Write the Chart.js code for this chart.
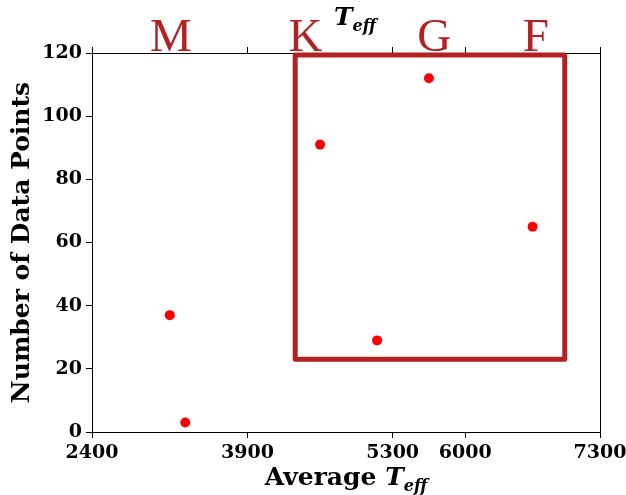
<!DOCTYPE html>
<html>
<head>
<meta charset="utf-8">
<script src="https://cdn.jsdelivr.net/npm/chart.js@4.4.1/dist/chart.umd.min.js"></script>
<style>
  html, body { margin: 0; padding: 0; background: #fff; }
  #wrap { width: 626px; height: 495px; position: relative; }
</style>
</head>
<body>
<div id="wrap"><canvas id="chart" width="626" height="495"></canvas></div>
<script>
// average effective temperature and number of data points per bin
const teff = [3150, 3300, 4600, 5150, 5650, 6650];
const counts = [37, 3, 91, 29, 112, 65];

// axis ticks
const xTicks = [2400, 3900, 5300, 6000, 7300];
const yTicks = [0, 20, 40, 60, 80, 100, 120];

// spectral classes along the top
const classLabels = ['M', 'K', 'G', 'F'];
const classTeff = [3160, 4460, 5700, 6680];

// highlighted region (Teff range, count range)
const boxTeff = [4360, 6960];
const boxCount = [23, 119.4];

const RED = '#b22222';
const SERIF = '"DejaVu Serif", serif';
const tickFont = { family: SERIF, size: 19, weight: 'bold' };

function drawTeff(ctx, x, y, size, bold, align) {
  // "T" with an "eff" subscript
  const w = bold ? 'bold ' : '';
  ctx.font = 'italic ' + w + size + 'px ' + SERIF;
  const tw = ctx.measureText('T').width;
  const sub = Math.round(size * 0.62);
  ctx.font = 'italic ' + w + sub + 'px ' + SERIF;
  const sw = ctx.measureText('eff').width;
  let x0 = x;
  if (align === 'center') x0 = x - (tw + sw) / 2;
  ctx.textAlign = 'left';
  ctx.textBaseline = 'alphabetic';
  ctx.font = 'italic ' + w + size + 'px ' + SERIF;
  ctx.fillText('T', x0, y);
  ctx.font = 'italic ' + w + sub + 'px ' + SERIF;
  ctx.fillText('eff', x0 + tw, y + size * 0.25);
  return tw + sw;
}

const decorations = {
  id: 'decorations',
  afterDatasetsDraw(chart) {
    const { ctx, scales } = chart;
    const x = scales.x, y = scales.y;
    ctx.save();

    // highlight box
    ctx.strokeStyle = RED;
    ctx.lineWidth = 5;
    ctx.lineJoin = 'round';
    const x1 = x.getPixelForValue(boxTeff[0]);
    const x2 = x.getPixelForValue(boxTeff[1]);
    const y1 = y.getPixelForValue(boxCount[1]);
    const y2 = y.getPixelForValue(boxCount[0]);
    ctx.strokeRect(x1, y1, x2 - x1, y2 - y1);

    // spectral class letters
    ctx.fillStyle = RED;
    ctx.font = '47px "Liberation Serif", serif';
    ctx.textAlign = 'center';
    ctx.textBaseline = 'alphabetic';
    classLabels.forEach((c, i) => {
      ctx.fillText(c, x.getPixelForValue(classTeff[i]), 51);
    });

    // top title
    ctx.fillStyle = '#000';
    drawTeff(ctx, 355, 25, 25, true, 'center');

    // x axis label
    ctx.font = 'bold 25px ' + SERIF;
    const aw = ctx.measureText('Average ').width;
    ctx.font = 'italic bold 25px ' + SERIF;
    const tw = ctx.measureText('T').width;
    ctx.font = 'italic bold 16px ' + SERIF;
    const sw = ctx.measureText('eff').width;
    const cx = (x.left + x.right) / 2;
    const start = cx - (aw + tw + sw) / 2;
    ctx.font = 'bold 25px ' + SERIF;
    ctx.textAlign = 'left';
    ctx.fillText('Average ', start, 485);
    drawTeff(ctx, start + aw, 485, 25, true, 'left');

    ctx.restore();
  }
};

const noSidePadding = s => { s.paddingLeft = 0; s.paddingRight = 0; };

new Chart(document.getElementById('chart'), {
  type: 'scatter',
  data: {
    datasets: [{
      data: teff.map((t, i) => ({ x: t, y: counts[i] })),
      backgroundColor: '#ff0000',
      borderWidth: 0,
      pointRadius: 5,
      pointHoverRadius: 5
    }]
  },
  options: {
    responsive: false,
    animation: false,
    devicePixelRatio: 1,
    layout: { padding: 0 },
    plugins: { legend: { display: false }, tooltip: { enabled: false } },
    scales: {
      x: {
        type: 'linear',
        position: 'bottom',
        min: 2400, max: 7300,
        afterBuildTicks: s => { s.ticks = xTicks.map(v => ({ value: v })); },
        afterFit: s => { s.height = 63; noSidePadding(s); },
        ticks: { font: tickFont, color: '#000', padding: 4, maxRotation: 0, autoSkip: false, callback: v => String(v) },
        grid: { drawOnChartArea: false, tickLength: 6, color: '#000' },
        border: { color: '#000', width: 1 }
      },
      xTop: {
        type: 'linear',
        position: 'top',
        min: 2400, max: 7300,
        afterBuildTicks: s => { s.ticks = xTicks.map(v => ({ value: v })); },
        afterFit: s => { s.height = 53; noSidePadding(s); },
        ticks: { callback: () => '', font: tickFont },
        grid: { drawOnChartArea: false, tickLength: 6, color: '#000' },
        border: { color: '#000', width: 1 }
      },
      y: {
        position: 'left',
        min: 0, max: 120,
        afterBuildTicks: s => { s.ticks = yTicks.map(v => ({ value: v })); },
        afterFit: s => { s.width = 92; s.paddingTop = 0; s.paddingBottom = 0; },
        ticks: { font: tickFont, color: '#000', padding: 4, callback: v => String(v) },
        grid: { drawOnChartArea: false, tickLength: 6, color: '#000' },
        border: { color: '#000', width: 1 },
        title: {
          display: true,
          text: 'Number of Data Points',
          color: '#000',
          font: { family: SERIF, size: 25, weight: 'bold' },
          padding: { top: 7, bottom: 0 }
        }
      },
      yRight: {
        position: 'right',
        min: 0, max: 120,
        afterFit: s => { s.width = 26; s.paddingTop = 0; s.paddingBottom = 0; },
        ticks: { callback: () => '' },
        grid: { drawOnChartArea: false, drawTicks: false },
        border: { color: '#000', width: 1 }
      }
    }
  },
  plugins: [decorations]
});
</script>
</body>
</html>
